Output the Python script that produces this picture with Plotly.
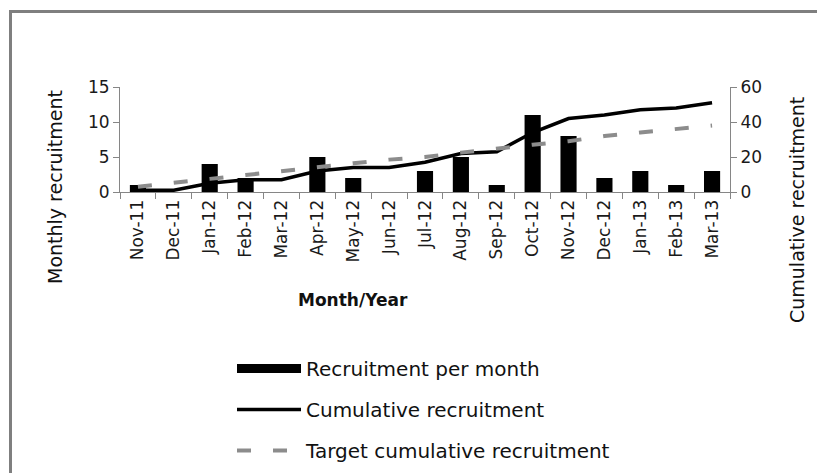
import plotly.graph_objects as go

months = ["Nov-11", "Dec-11", "Jan-12", "Feb-12", "Mar-12", "Apr-12", "May-12", "Jun-12",
          "Jul-12", "Aug-12", "Sep-12", "Oct-12", "Nov-12", "Dec-12", "Jan-13", "Feb-13", "Mar-13"]
monthly = [1, 0, 4, 2, 0, 5, 2, 0, 3, 5, 1, 11, 8, 2, 3, 1, 3]
cumulative = [1, 1, 5, 7, 7, 12, 14, 14, 17, 22, 23, 34, 42, 44, 47, 48, 51]
target = [3, 5, 7.5, 9.7, 12, 14.5, 16.4, 18.5, 20, 22.5, 25, 27, 29, 32, 34, 36, 38]

FONT = "DejaVu Sans"
AX = "#868686"

# plot area on screen: x 120..730, y 87..192
def px(X):
    return (X - 120) / 610

def py(Y):
    return (192 - Y) / 105

fig = go.Figure()
fig.add_trace(go.Bar(x=months, y=monthly, marker=dict(color="black", line=dict(width=0)),
                     width=0.45, showlegend=False, yaxis="y"))
fig.add_trace(go.Scatter(x=months, y=cumulative, mode="lines", yaxis="y2", showlegend=False,
                         line=dict(color="black", width=3.5)))
fig.add_trace(go.Scatter(x=months, y=target, mode="lines", yaxis="y2", showlegend=False,
                         line=dict(color="#8c8c8c", width=4, dash="14px,22px")))
# legend entries
fig.add_trace(go.Scatter(x=[None], y=[None], mode="lines", name="Recruitment per month",
                         legendgroup="a", line=dict(color="black", width=9)))
fig.add_trace(go.Scatter(x=[None], y=[None], mode="lines", name="Cumulative recruitment",
                         legendgroup="b", line=dict(color="black", width=3.5)))
fig.add_trace(go.Scatter(x=[None], y=[None], mode="lines", name="Target cumulative recruitment",
                         legendgroup="c", line=dict(color="#8c8c8c", width=4, dash="14px,22px")))

axcommon = dict(showline=True, linecolor=AX, linewidth=1, ticks="outside", ticklen=6,
                tickcolor=AX, showgrid=False, zeroline=False, automargin=False,
                tickfont=dict(family=FONT, size=17, color="#1a1a1a"))

fig.update_layout(
    width=825, height=473,
    margin=dict(l=112, r=103, t=79, b=289, autoexpand=False),
    paper_bgcolor="white", plot_bgcolor="white",
    font=dict(family=FONT, color="#111"),
    xaxis=dict(type="category", tickangle=-90, tickson="boundaries", **axcommon),
    yaxis=dict(range=[0, 15], tickvals=[0, 5, 10, 15], **axcommon),
    yaxis2=dict(range=[0, 60], tickvals=[0, 20, 40, 60], overlaying="y", side="right", **axcommon),
    legend=dict(x=px(232), y=py(349), xanchor="left", yanchor="top",
                orientation="v", itemwidth=64, tracegroupgap=12, traceorder="grouped",
                font=dict(family=FONT, size=20, color="#111"), bgcolor="rgba(0,0,0,0)"),
    annotations=[
        dict(text="Month/Year", xref="paper", yref="paper", x=px(353), y=py(300),
             showarrow=False, xanchor="center", yanchor="middle",
             font=dict(family=FONT, size=17, color="#111", weight="bold")),
        dict(text="Monthly recruitment", xref="paper", yref="paper", x=px(55), y=py(187),
             showarrow=False, textangle=-90, xanchor="center", yanchor="middle",
             font=dict(family=FONT, size=19, color="#111")),
        dict(text="Cumulative recruitment", xref="paper", yref="paper", x=px(797), y=py(210),
             showarrow=False, textangle=-90, xanchor="center", yanchor="middle",
             font=dict(family=FONT, size=19, color="#111")),
    ],
    shapes=[dict(type="rect", xref="paper", yref="paper", x0=px(10.5), x1=px(900),
                 y0=py(600), y1=py(11.5), line=dict(color="#7f7f7f", width=3),
                 fillcolor="rgba(0,0,0,0)", layer="below")],
)

fig.write_html("out.html")
